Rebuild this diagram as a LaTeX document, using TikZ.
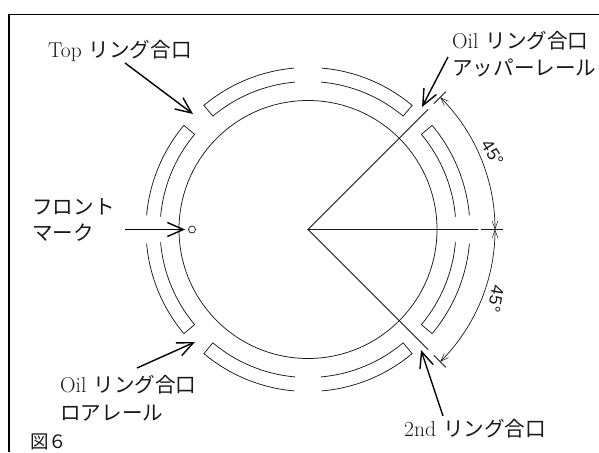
\documentclass[tikz,border=0pt]{standalone}
\usepackage{fontspec}
\newfontfamily\jp{Noto Sans CJK JP}
\newfontfamily\sa{Liberation Sans}
\usetikzlibrary{arrows.meta}
\newcommand{\latn}[1]{{\fontsize{21.5}{22}\selectfont\rmfamily #1}\hspace{7pt}}
\tikzset{
  thin line/.style={line width=0.75pt,black!90},
  leader/.style={line width=1.4pt,black,-{Straight Barb[length=16pt,width=14pt,line width=1.4pt]}},
  dimension/.style={line width=0.7pt,black!90,{Straight Barb[length=8pt,width=6pt,line width=0.5pt]}-{Straight Barb[length=8pt,width=6pt,line width=0.5pt]}},
  frame/.style={line width=1.6pt,black},
  lab/.style={inner sep=0pt,anchor=west,font=\fontsize{20.6}{22}\selectfont\jp,text=black!90},
  ang/.style={inner sep=0pt,anchor=center,font=\fontsize{17.5}{20}\selectfont\sa,text=black!90},
}
\begin{document}
\begin{tikzpicture}[x=1pt,y=1pt,yscale=-1]
\useasboundingbox (0,0) rectangle (599,452);
\draw[frame] (9,452) -- (9,14.5) -- (599,14.5);
\begin{scope}[shift={(308,229.5)},yscale=-1]
  \draw[thin line] (0,0) circle[radius=129];
  \draw[thin line] (85:162) arc[start angle=85,end angle=50,radius=162] -- (50:148) arc[start angle=50,end angle=85,radius=148];
  \draw[thin line] (95:162) arc[start angle=95,end angle=130,radius=162] -- (130:148) arc[start angle=130,end angle=95,radius=148];
  \draw[thin line] (175:162) arc[start angle=175,end angle=140,radius=162] -- (140:148) arc[start angle=140,end angle=175,radius=148];
  \draw[thin line] (185:162) arc[start angle=185,end angle=220,radius=162] -- (220:148) arc[start angle=220,end angle=185,radius=148];
  \draw[thin line] (265:162) arc[start angle=265,end angle=230,radius=162] -- (230:148) arc[start angle=230,end angle=265,radius=148];
  \draw[thin line] (275:162) arc[start angle=275,end angle=310,radius=162] -- (310:148) arc[start angle=310,end angle=275,radius=148];
  \draw[thin line] (355:162) arc[start angle=355,end angle=320,radius=162] -- (320:148) arc[start angle=320,end angle=355,radius=148];
  \draw[thin line] (5:162) arc[start angle=5,end angle=40,radius=162] -- (40:148) arc[start angle=40,end angle=5,radius=148];
  \draw[thin line] (45:170) -- (0,0) -- (0:170);
  \draw[thin line] (0,0) -- (-45:170);
  \draw[thin line] (45:178) -- (45:195);
  \draw[thin line] (-45:178) -- (-45:195);
  \draw[thin line] (173,0) -- (195,0);
  \draw[dimension] (45:187) arc[start angle=45,end angle=0,radius=187];
  \draw[dimension] (-45:187) arc[start angle=-45,end angle=0,radius=187];
  \node[circle,draw,thin line,minimum size=7pt,inner sep=0pt,fill=white] (mark) at (180:116) {};
\end{scope}
\node[ang,rotate=-58] (d1) at (492.5,153) {45°};
\node[ang,rotate=-100] (d2) at (496,299) {45°};

\node[lab] (top) at (48,51) {\latn{Top}リング合口};
\node[lab] (oilu) at (452,41) {\latn{Oil}リング合口};
\node[lab] (oilu2) at (452,68) {アッパーレール};
\node[lab] (fr) at (32,207) {フロント};
\node[lab] (ma) at (32,233) {マーク};
\node[lab] (oill) at (60,385) {\latn{Oil}リング合口};
\node[lab] (oill2) at (60,413) {ロアレール};
\node[lab] (nd) at (404,429) {\latn{2nd}リング合口};
\node[lab,font=\fontsize{18.5}{20}\selectfont\jp] (fig) at (30,442) {図６};

\coordinate (a1) at (125,63);
\coordinate (a1e) at (193,114);
\coordinate (a2) at (448,57);
\coordinate (a2e) at (422,107);
\coordinate (a3) at (125,229.5);
\coordinate (a4) at (137,368);
\coordinate (a4e) at (195,342);
\coordinate (a5) at (443,416);
\coordinate (a5e) at (421,350);
\draw[leader] (a1) -- (a1e);
\draw[leader] (a2) -- (a2e);
\draw[leader,shorten >=3pt] (a3) -- (mark.west);
\draw[leader] (a4) -- (a4e);
\draw[leader] (a5) -- (a5e);
\end{tikzpicture}
\end{document}
